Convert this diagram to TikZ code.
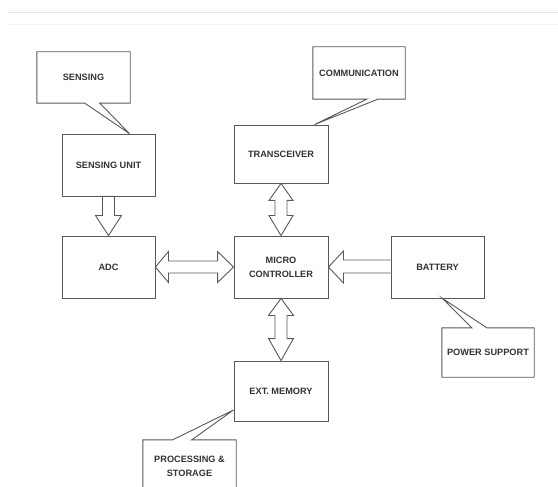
\documentclass[tikz,border=0pt]{standalone}
\usepackage{fontspec}
\setmainfont{Liberation Sans}
\usetikzlibrary{calc}
\begin{document}
\begin{tikzpicture}[x=1pt,y=-1pt,line join=miter,
  lbl/.style={font=\fontsize{9.2}{14}\selectfont\bfseries, text=black!80, align=center, inner sep=0pt},
  blk/.style={lbl, draw=black!65, line width=0.9pt, minimum width=93pt, minimum height=62pt},
  ctext/.style={lbl, minimum width=93pt, minimum height=51pt},
  cline/.style={draw=black!65, line width=0.9pt},
  barrow/.style={draw=black!65, line width=0.9pt, fill=white}]
\useasboundingbox (0,0) rectangle (558,487);
\fill[white] (0,0) rectangle (558,487);
\draw[black!10, line width=1pt] (8,12.5) -- (558,12.5);
\draw[black!4, line width=0.8pt] (8,24.5) -- (558,24.5);

% main blocks
\node[blk] (su) at (108.5,165) {SENSING UNIT};
\node[blk] (adc) at (108.5,267) {ADC};
\node[blk, minimum width=94pt, minimum height=58pt] (tr) at (281,154) {TRANSCEIVER};
\node[blk, minimum width=94pt] (mc) at (281,267) {MICRO\\CONTROLLER};
\node[blk] (bat) at (437.5,267) {BATTERY};
\node[blk, minimum width=94pt, minimum height=60pt] (ext) at (281,391) {EXT. MEMORY};

% callouts
\node[ctext] (sens) at (83.5,77.5) {SENSING};
\draw[cline] (sens.north west) -- (sens.north east) -- (sens.south east)
  -- ($(sens.south west)+(63,0)$) -- ($(su.north east)+(-26,0)$)
  -- ($(sens.south west)+(48,0)$) -- (sens.south west) -- cycle;

\node[ctext, minimum width=92pt, minimum height=52pt] (comm) at (359,73) {COMMUNICATION};
\draw[cline] (comm.north west) -- (comm.north east) -- (comm.south east)
  -- ($(comm.south west)+(65,0)$) -- ($(tr.north west)+(81,0)$)
  -- ($(comm.south west)+(54,0)$) -- (comm.south west) -- cycle;

\node[ctext, minimum width=92pt, minimum height=49pt] (pow) at (488,352.5) {POWER SUPPORT};
\draw[cline] (pow.north west) -- ($(pow.north west)+(30,0)$) -- ($(bat.south west)+(52,0)$)
  -- ($(pow.north west)+(45,0)$) -- (pow.north east) -- (pow.south east)
  -- (pow.south west) -- cycle;

\node[ctext, minimum height=52pt] (proc) at (189.5,466) {PROCESSING \&\\STORAGE};
\draw[cline] (proc.south west) -- (proc.north west) -- ($(proc.north west)+(30,0)$)
  -- ($(ext.west)+(0,19)$) -- ($(proc.north west)+(49,0)$)
  -- (proc.north east) -- (proc.south east);

% block arrows
% sensing unit -> ADC
\draw[barrow] ($(su.south)+(-6,0)$) -- ($(su.south)+(6,0)$) -- ($(adc.north)+(6,-20)$)
  -- ($(adc.north)+(13,-20)$) -- (adc.north) -- ($(adc.north)+(-13,-20)$)
  -- ($(adc.north)+(-6,-20)$) -- cycle;
% ADC <-> MC
\draw[barrow] (adc.east) -- ($(adc.east)+(13,-15.5)$) -- ($(adc.east)+(13,-6)$)
  -- ($(mc.west)+(-16,-6)$) -- ($(mc.west)+(-16,-15.5)$) -- (mc.west)
  -- ($(mc.west)+(-16,15.5)$) -- ($(mc.west)+(-16,6)$) -- ($(adc.east)+(13,6)$)
  -- ($(adc.east)+(13,15.5)$) -- cycle;
% battery -> MC
\draw[barrow] ($(bat.west)+(0,-7)$) -- ($(mc.east)+(15,-7)$) -- ($(mc.east)+(15,-16)$)
  -- (mc.east) -- ($(mc.east)+(15,16)$) -- ($(mc.east)+(15,6)$)
  -- ($(bat.west)+(0,6)$);
% transceiver <-> MC
\draw[barrow] (tr.south) -- ($(tr.south)+(12,17)$) -- ($(tr.south)+(6,17)$)
  -- ($(mc.north)+(6,-20)$) -- ($(mc.north)+(12,-20)$) -- (mc.north)
  -- ($(mc.north)+(-12,-20)$) -- ($(mc.north)+(-6,-20)$) -- ($(tr.south)+(-6,17)$)
  -- ($(tr.south)+(-12,17)$) -- cycle;
% MC <-> ext memory
\draw[barrow] (mc.south) -- ($(mc.south)+(12.5,17)$) -- ($(mc.south)+(6,17)$)
  -- ($(ext.north)+(6,-22)$) -- ($(ext.north)+(12.5,-22)$) -- (ext.north)
  -- ($(ext.north)+(-12.5,-22)$) -- ($(ext.north)+(-6,-22)$) -- ($(mc.south)+(-6,17)$)
  -- ($(mc.south)+(-12.5,17)$) -- cycle;
\end{tikzpicture}
\end{document}
